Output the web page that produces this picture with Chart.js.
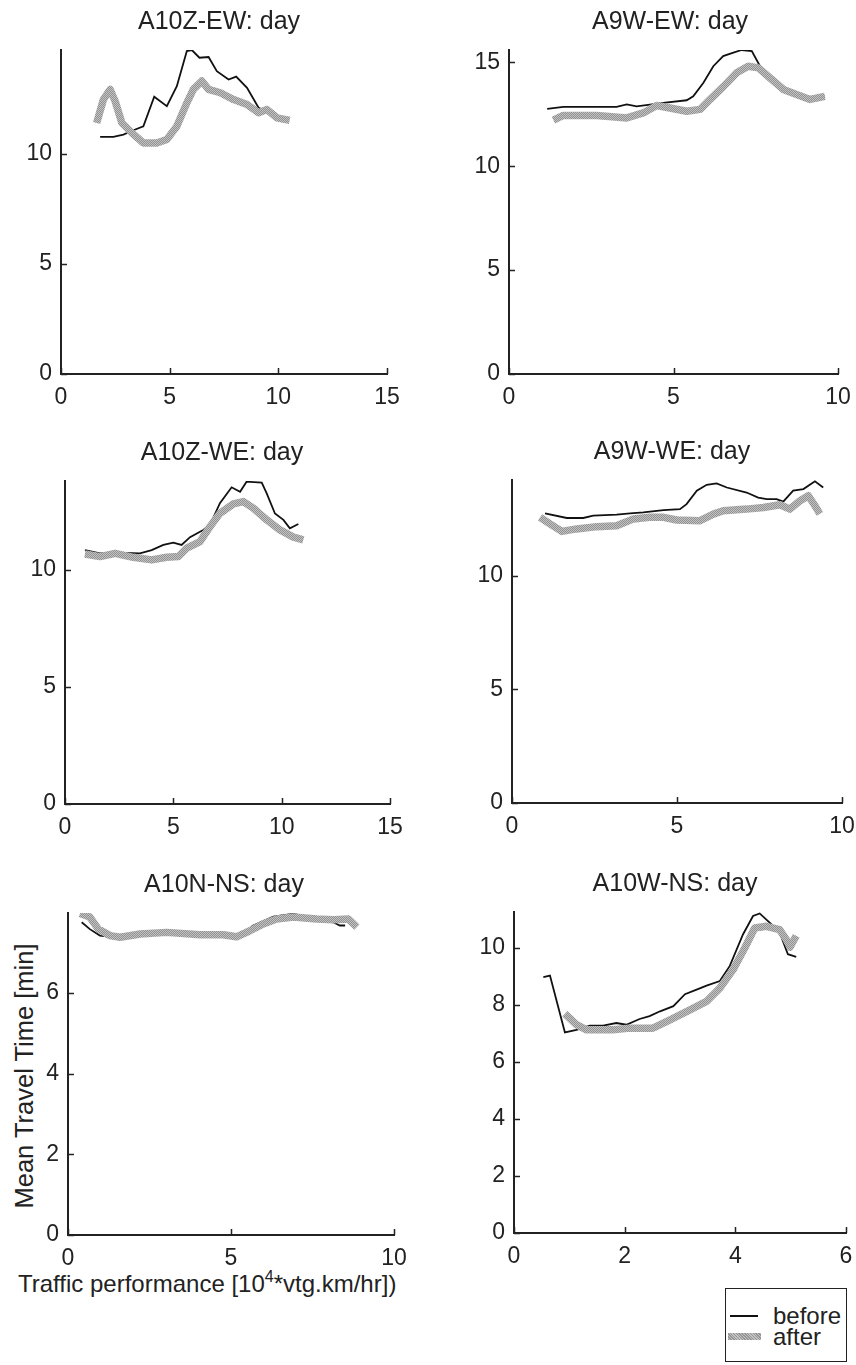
<!DOCTYPE html>
<html>
<head>
<meta charset="utf-8">
<script src="https://cdn.jsdelivr.net/npm/chart.js@4.4.0/dist/chart.umd.min.js"></script>
<style>
body { margin:0; width:856px; height:1365px; overflow:hidden; background:#fff; position:relative; font-family:"Liberation Sans", Arial, sans-serif; color:#222; }
canvas { position:absolute; }
#rotulo-y { position:absolute; left:24px; top:1076px; transform:translate(-50%,-50%) rotate(-90deg); white-space:nowrap; font-size:25.5px; }
#rotulo-x { position:absolute; left:18px; top:1270px; white-space:nowrap; font-size:24px; }
#rotulo-x sup { font-size:16px; vertical-align:10px; line-height:0; }
#legenda { position:absolute; left:725px; top:1288px; width:120px; height:72px; border:1.5px solid #222; }
#legenda .item { position:absolute; left:47px; font-size:24px; line-height:22px; }
#legenda .amostra { position:absolute; left:4px; width:28px; }
#legenda .cinza { background: repeating-linear-gradient(45deg, #959595 0 1px, #c2c2c2 1px 2px); }
</style>
</head>
<body>
<div id="rotulo-y">Mean Travel Time [min]</div>
<div id="rotulo-x">Traffic performance [10<sup>4</sup>*vtg.km/hr])</div>
<div id="legenda">
  <div class="amostra" style="top:26px;height:2px;background:#111"></div>
  <div class="item" style="top:16px">before</div>
  <div class="amostra cinza" style="top:44px;height:7px;left:2px;width:33px"></div>
  <div class="item" style="top:37px">after</div>
</div>
<script>
const titulos = ['A10Z-EW: day', 'A9W-EW: day', 'A10Z-WE: day', 'A9W-WE: day', 'A10N-NS: day', 'A10W-NS: day']

// [x, y]: antes / depois
const a10zEw_antes = [[1.80,10.76],[2.41,10.76],[2.87,10.86],[3.33,11.06],[3.79,11.24],[4.29,12.58],[4.87,12.15],[5.33,13.06],[5.79,14.65],[6.02,14.70],[6.37,14.35],[6.79,14.38],[7.17,13.74],[7.71,13.36],[8.06,13.49],[8.56,12.98],[9.09,12.08],[9.5,11.9],[10.0,11.6],[10.4,11.5]]
const a10zEw_depois = [[1.64,11.39],[1.95,12.45],[2.26,12.91],[2.49,12.38],[2.80,11.39],[3.26,10.94],[3.79,10.48],[4.41,10.48],[4.87,10.64],[5.33,11.24],[5.79,12.30],[6.09,12.91],[6.48,13.29],[6.79,12.91],[7.33,12.76],[7.94,12.45],[8.56,12.23],[9.09,11.85],[9.48,12.0],[9.94,11.62],[10.52,11.51]]

const a9wEw_antes = [[1.16,12.77],[1.65,12.86],[3.27,12.86],[3.58,12.98],[3.88,12.89],[4.69,13.05],[5.40,13.18],[5.60,13.37],[5.91,14.02],[6.21,14.82],[6.51,15.31],[6.82,15.47],[7.07,15.60],[7.38,15.55],[7.63,14.82],[8.14,14.02],[8.54,13.63],[8.95,13.37],[9.25,13.30],[9.60,13.37]]
const a9wEw_depois = [[1.35,12.22],[1.65,12.45],[2.67,12.45],[3.58,12.33],[4.08,12.57],[4.49,12.93],[4.89,12.81],[5.40,12.65],[5.81,12.74],[6.11,13.22],[6.51,13.83],[6.92,14.50],[7.27,14.82],[7.58,14.74],[7.93,14.26],[8.34,13.70],[8.74,13.46],[9.15,13.22],[9.60,13.37]]

const a10zWe_antes = [[0.92,10.85],[1.62,10.71],[2.39,10.74],[3.46,10.71],[4.00,10.85],[4.54,11.07],[5.00,11.17],[5.38,11.07],[5.77,11.40],[6.38,11.71],[6.69,11.92],[7.15,12.85],[7.69,13.53],[8.08,13.34],[8.38,13.77],[9.08,13.73],[9.31,13.27],[9.69,12.41],[10.08,12.14],[10.38,11.78],[10.77,11.96]]
const a10zWe_depois = [[0.92,10.68],[1.62,10.57],[2.31,10.71],[3.15,10.54],[4.00,10.43],[4.69,10.54],[5.23,10.57],[5.62,10.93],[6.23,11.21],[6.69,11.85],[7.15,12.42],[7.77,12.82],[8.23,12.92],[8.69,12.64],[9.31,12.14],[9.92,11.71],[10.54,11.40],[11.00,11.28]]

const a9wWe_antes = [[1.00,12.73],[1.66,12.53],[2.16,12.53],[2.46,12.63],[3.17,12.68],[3.58,12.73],[3.98,12.78],[4.59,12.88],[5.09,12.92],[5.29,13.14],[5.60,13.73],[5.90,13.99],[6.20,14.05],[6.51,13.87],[7.11,13.65],[7.46,13.43],[7.72,13.36],[8.02,13.36],[8.22,13.25],[8.52,13.73],[8.83,13.80],[9.18,14.14],[9.43,13.87]]
const a9wWe_depois = [[0.85,12.56],[1.15,12.27],[1.51,11.94],[1.96,12.05],[2.57,12.15],[3.17,12.19],[3.68,12.49],[4.18,12.56],[4.59,12.56],[4.99,12.44],[5.70,12.41],[6.10,12.70],[6.40,12.85],[7.11,12.92],[7.62,12.99],[8.12,13.11],[8.42,12.92],[8.73,13.29],[8.98,13.51],[9.18,13.07],[9.33,12.71]]

const a10nNs_antes = [[0.42,7.75],[0.67,7.58],[0.98,7.42],[1.39,7.38],[2.2,7.42],[3.0,7.46],[4.0,7.41],[4.8,7.41],[5.2,7.38],[5.68,7.67],[6.30,7.89],[6.91,7.96],[7.63,7.83],[8.14,7.75],[8.34,7.67],[8.50,7.67]]
const a10nNs_depois = [[0.37,7.97],[0.67,7.88],[0.93,7.58],[1.29,7.42],[1.60,7.38],[2.21,7.46],[3.03,7.50],[4.05,7.44],[4.76,7.44],[5.17,7.39],[5.58,7.54],[5.99,7.71],[6.40,7.83],[6.91,7.88],[7.63,7.83],[8.14,7.81],[8.60,7.83],[8.86,7.63]]

const a10wNs_antes = [[0.53,8.97],[0.65,9.02],[0.92,7.03],[1.13,7.12],[1.37,7.27],[1.61,7.27],[1.85,7.36],[2.03,7.30],[2.27,7.50],[2.45,7.60],[2.64,7.77],[2.88,7.95],[3.09,8.37],[3.30,8.53],[3.48,8.67],[3.72,8.83],[3.90,9.36],[4.14,10.47],[4.32,11.11],[4.44,11.2],[4.62,10.88],[4.80,10.53],[4.95,9.77],[5.10,9.68]]
const a10wNs_depois = [[0.92,7.68],[1.13,7.30],[1.31,7.12],[1.79,7.12],[2.09,7.18],[2.51,7.18],[2.82,7.47],[3.18,7.82],[3.48,8.12],[3.72,8.58],[3.96,9.23],[4.17,9.99],[4.35,10.69],[4.56,10.75],[4.80,10.63],[4.92,10.28],[4.99,10.02],[5.10,10.42]]

// [min, max, passo]
const eixos_x = [[0,15,5],[0,10,5],[0,15,5],[0,10,5],[0,10,5],[0,6,2]]
const eixos_y = [[0,14.7,5],[0,15.6,5],[0,13.8,5],[0,14.2,5],[0,7.98,2],[0,11.25,2]]

const series = [
    [a10zEw_antes, a10zEw_depois],
    [a9wEw_antes, a9wEw_depois],
    [a10zWe_antes, a10zWe_depois],
    [a9wWe_antes, a9wWe_depois],
    [a10nNs_antes, a10nNs_depois],
    [a10wNs_antes, a10wNs_depois]
]

// area de plotagem de cada painel na pagina (l, r, t, b) e centro do titulo
const paineis = [
    {l:61, r:387, t:50, b:374, cx:219},
    {l:509, r:838, t:50, b:374, cx:670},
    {l:65, r:390, t:481, b:804, cx:222},
    {l:512, r:842, t:480, b:803, cx:672},
    {l:68, r:394, t:913, b:1235, cx:224},
    {l:514, r:846, t:912, b:1233, cx:675}
]

const fonte = '"Liberation Sans", Arial, sans-serif'
const larg_y = 60
const alt_x = 45
const alt_titulo = 50

// textura pontilhada da linha cinza
function gera_textura(){
    const c = document.createElement('canvas')
    c.width = 2
    c.height = 2
    const g = c.getContext('2d')
    g.fillStyle = '#c2c2c2'
    g.fillRect(0, 0, 2, 2)
    g.fillStyle = '#929292'
    g.fillRect(0, 0, 1, 1)
    g.fillRect(1, 1, 1, 1)
    return g.createPattern(c, 'repeat')
}
const textura_cinza = gera_textura()

const marcas_internas = {
    id: 'marcas_internas',
    afterDraw(chart){
        const ctx = chart.ctx
        const a = chart.chartArea
        const sx = chart.scales.x
        const sy = chart.scales.y
        ctx.save()
        ctx.strokeStyle = '#222'
        ctx.lineWidth = 1.5
        sx.ticks.forEach(function(t){
            const px = Math.round(sx.getPixelForValue(t.value)) + 0.5
            ctx.beginPath()
            ctx.moveTo(px, a.bottom)
            ctx.lineTo(px, a.bottom - 6)
            ctx.stroke()
        })
        sy.ticks.forEach(function(t){
            const py = Math.round(sy.getPixelForValue(t.value)) + 0.5
            ctx.beginPath()
            ctx.moveTo(a.left, py)
            ctx.lineTo(a.left + 6, py)
            ctx.stroke()
        })
        ctx.restore()
    }
}

function pontos(lista){
    return lista.map(function(p){ return {x: p[0], y: p[1]} })
}

function desenha_painel(i){
    const p = paineis[i]
    const esquerda = p.l - larg_y
    const largura = Math.round(2 * (p.cx - esquerda))
    const altura = (p.b - p.t) + alt_titulo + alt_x
    const pad_dir = largura - larg_y - (p.r - p.l)

    const canvas = document.createElement('canvas')
    canvas.width = largura
    canvas.height = altura
    canvas.style.left = esquerda + 'px'
    canvas.style.top = (p.t - alt_titulo) + 'px'
    document.body.appendChild(canvas)

    const ex = eixos_x[i]
    const ey = eixos_y[i]

    new Chart(canvas.getContext('2d'), {
        type: 'scatter',
        data: {
            datasets: [{
                label: 'before',
                data: pontos(series[i][0]),
                showLine: true,
                borderColor: '#111',
                borderWidth: 1.8,
                pointRadius: 0,
                tension: 0,
                order: 1
            }, {
                label: 'after',
                data: pontos(series[i][1]),
                showLine: true,
                borderColor: textura_cinza,
                borderWidth: 7.5,
                borderJoinStyle: 'round',
                pointRadius: 0,
                tension: 0,
                order: 0
            }]
        },
        options: {
            responsive: false,
            animation: false,
            devicePixelRatio: 1,
            layout: { padding: 0 },
            plugins: {
                legend: { display: false },
                tooltip: { enabled: false },
                title: {
                    display: true,
                    text: titulos[i],
                    color: '#222',
                    font: { family: fonte, size: 25, weight: 'normal' },
                    padding: { top: 7, bottom: 13 }
                }
            },
            scales: {
                x: {
                    type: 'linear',
                    min: ex[0], max: ex[1],
                    grid: { display: false, drawTicks: false },
                    border: { display: true, color: '#222', width: 2 },
                    ticks: { stepSize: ex[2], includeBounds: false, color: '#222', padding: 10, maxRotation: 0, font: { family: fonte, size: 23 } },
                    afterFit: function(s){ s.height = alt_x }
                },
                y: {
                    type: 'linear',
                    min: ey[0], max: ey[1],
                    grid: { display: false, drawTicks: false },
                    border: { display: true, color: '#222', width: 2 },
                    ticks: { stepSize: ey[2], includeBounds: false, color: '#222', padding: 9, font: { family: fonte, size: 23 } },
                    afterFit: function(s){ s.width = larg_y }
                },
                // eixo vazio a direita, so para reservar espaco
                margem: {
                    type: 'linear',
                    position: 'right',
                    grid: { display: false, drawTicks: false },
                    border: { display: false },
                    ticks: { display: false },
                    afterFit: function(s){ s.width = pad_dir }
                }
            }
        },
        plugins: [marcas_internas]
    })
}

for(let i = 0; i < paineis.length; i++){
    desenha_painel(i)
}
</script>
</body>
</html>
